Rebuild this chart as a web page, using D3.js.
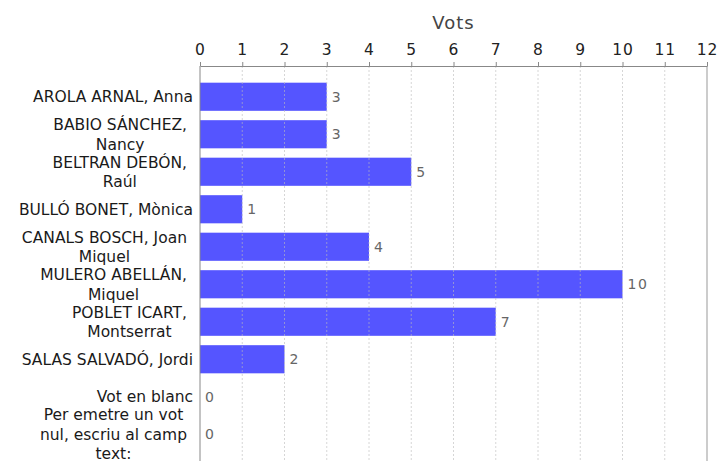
<!DOCTYPE html>
<html>
<head>
<meta charset="utf-8">
<script src="https://cdn.jsdelivr.net/npm/d3@7"></script>
<style>
  body { margin: 0; background: #fff; }
  svg { display: block; font-family: "DejaVu Sans", sans-serif; }
</style>
</head>
<body>
<div id="chart"></div>
<script>
// DATA
var candidates = [
  "AROLA ARNAL, Anna",
  "BABIO SÁNCHEZ,\nNancy",
  "BELTRAN DEBÓN,\nRaúl",
  "BULLÓ BONET, Mònica",
  "CANALS BOSCH, Joan\nMiquel",
  "MULERO ABELLÁN,\nMiquel",
  "POBLET ICART,\nMontserrat",
  "SALAS SALVADÓ, Jordi",
  "Vot en blanc",
  "Per emetre un vot\nnul, escriu al camp\ntext:"
];
var votes = [3, 3, 5, 1, 4, 10, 7, 2, 0, 0];
var xTicks = [0, 1, 2, 3, 4, 5, 6, 7, 8, 9, 10, 11, 12];
var axisTitle = "Vots";

// SET UP CHART
var svgWidth = 717;
var svgHeight = 461;

var plot = { left: 200, right: 707, top: 66, bottom: 461 };

var svg = d3.select("#chart")
  .append("svg")
  .attr("width", svgWidth)
  .attr("height", svgHeight);

// SCALES
var xScale = d3.scaleLinear()
  .domain([0, 12])
  .range([plot.left, plot.right]);

var yScale = d3.scaleBand()
  .domain(candidates)
  .range([78, 453])
  .paddingInner(0.25)
  .paddingOuter(0.125);

// BARS
svg.append("g")
  .selectAll("rect")
  .data(candidates)
  .enter()
  .append("rect")
  .attr("x", xScale(0))
  .attr("y", d => yScale(d))
  .attr("width", (d, i) => xScale(votes[i]) - xScale(0))
  .attr("height", yScale.bandwidth())
  .attr("fill", "#5555ff");

// GRIDLINES (dotted, drawn over bars like the original)
svg.append("g")
  .selectAll("line")
  .data(xTicks.slice(1, -1))
  .enter()
  .append("line")
  .attr("x1", d => xScale(d))
  .attr("x2", d => xScale(d))
  .attr("y1", plot.top)
  .attr("y2", plot.bottom)
  .attr("stroke", "#bbb")
  .attr("stroke-opacity", 0.6)
  .attr("stroke-dasharray", "2,2");

// PLOT OUTLINE (left and right edges)
svg.append("line")
  .attr("x1", plot.left).attr("x2", plot.left)
  .attr("y1", plot.top).attr("y2", plot.bottom)
  .attr("stroke", "#888");
svg.append("line")
  .attr("x1", plot.right).attr("x2", plot.right)
  .attr("y1", plot.top).attr("y2", plot.bottom)
  .attr("stroke", "#999");

// TOP AXIS
var topAxis = d3.axisTop(xScale)
  .tickValues(xTicks)
  .tickFormat(d3.format("d"))
  .tickSize(4)
  .tickPadding(7)
  .tickSizeOuter(0);

var xAxis = svg.append("g")
  .attr("transform", `translate(0, ${plot.top})`)
  .call(topAxis);

xAxis.select(".domain").attr("stroke", "#888");
xAxis.selectAll(".tick line").attr("stroke", "#888");
xAxis.selectAll(".tick text")
  .attr("fill", "#222")
  .attr("font-size", 15.5)
  .attr("letter-spacing", "1px")
  .attr("font-family", "DejaVu Sans, sans-serif");

// AXIS TITLE
svg.append("text")
  .attr("x", (plot.left + plot.right) / 2)
  .attr("y", 29)
  .attr("text-anchor", "middle")
  .attr("font-size", 18)
  .attr("letter-spacing", "1px")
  .attr("fill", "#444")
  .text(axisTitle);

// CATEGORY LABELS - multi-line blocks centred, block right aligned
var lineHeight = 19.5;
var labelRight = 193;

candidates.forEach(function(name) {
  var lines = name.split("\n");
  var cy = yScale(name) + yScale.bandwidth() / 2;
  var g = svg.append("g");

  var texts = g.selectAll("text")
    .data(lines)
    .enter()
    .append("text")
    .attr("y", (d, i) => cy + (i - (lines.length - 1) / 2) * lineHeight)
    .attr("dy", "0.36em")
    .attr("font-size", 15.5)
    .attr("fill", "#1a1a1a")
    .text(d => d);

  if (lines.length === 1) {
    texts.attr("x", labelRight).attr("text-anchor", "end");
  } else {
    // wrapped lines keep a trailing space in the original, so block ends a bit earlier
    var maxW = d3.max(texts.nodes(), n => n.getComputedTextLength());
    var centre = labelRight - 6 - maxW / 2;
    texts.attr("x", centre).attr("text-anchor", "middle");
  }
});

// VALUE LABELS
svg.append("g")
  .selectAll("text")
  .data(candidates)
  .enter()
  .append("text")
  .attr("x", (d, i) => xScale(votes[i]) + 5)
  .attr("y", d => yScale(d) + yScale.bandwidth() / 2)
  .attr("dy", "0.36em")
  .attr("font-size", 14)
  .attr("letter-spacing", "1.5px")
  .attr("fill", "#666")
  .text((d, i) => votes[i]);
</script>
</body>
</html>
